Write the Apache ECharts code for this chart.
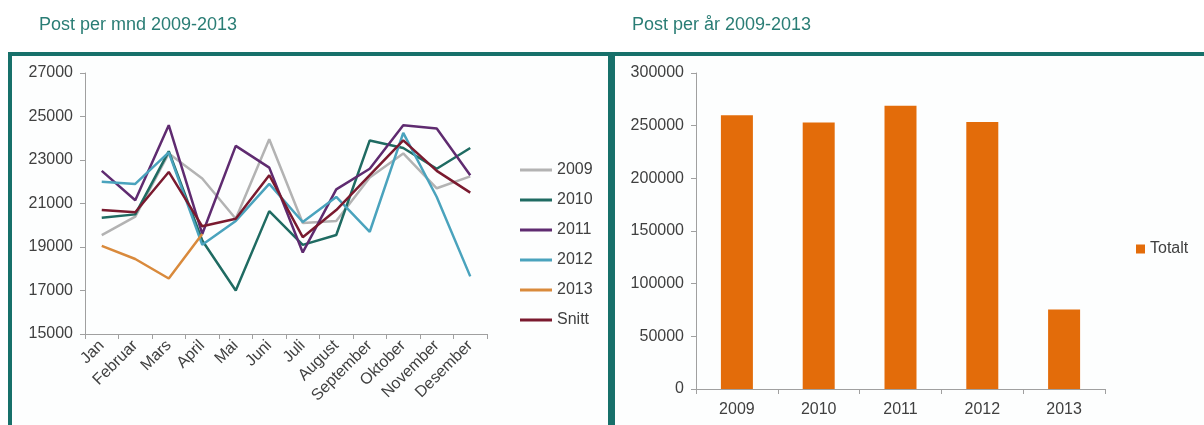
<!DOCTYPE html>
<html>
<head>
<meta charset="utf-8">
<script src="https://cdn.jsdelivr.net/npm/echarts@6/dist/echarts.min.js"></script>
<style>
html,body{margin:0;padding:0;background:#ffffff;}
#chart{width:1204px;height:425px;}
</style>
</head>
<body>
<div id="chart"></div>
<script>
// ---- data ----
const months = ['Jan','Februar','Mars','April','Mai','Juni','Juli','August','September','Oktober','November','Desember'];
const seriesNames = ['2009','2010','2011','2012','2013','Snitt'];
const s2009 = [19550, 20400, 23300, 22150, 20300, 23950, 20100, 20200, 22200, 23300, 21700, 22250];
const s2010 = [20350, 20500, 23400, 19300, 17000, 20650, 19100, 19550, 23900, 23550, 22600, 23550];
const s2011 = [22500, 21150, 24600, 19600, 23650, 22650, 18750, 21650, 22600, 24600, 24450, 22300];
const s2012 = [22000, 21900, 23350, 19100, 20200, 21900, 20150, 21300, 19700, 24250, 21300, 17650];
const s2013 = [19050, 18450, 17550, 19600, null, null, null, null, null, null, null, null];
const sSnitt = [20700, 20600, 22450, 19950, 20300, 22300, 19450, 20700, 22300, 23900, 22500, 21500];
const years = ['2009','2010','2011','2012','2013'];
const totals = [260000, 253000, 269000, 253500, 75500];
const leftTicks = [15000, 17000, 19000, 21000, 23000, 25000, 27000];
const rightTicks = [0, 50000, 100000, 150000, 200000, 250000, 300000];

const lineValues = [s2009, s2010, s2011, s2012, s2013, sSnitt];
const lineColors = ['#b3b3b3', '#1f6b62', '#5f2b70', '#4aa3bd', '#d98a3c', '#7a1a2f'];

const axisColor = '#a0a0a0';
const labelColor = '#404040';
const borderColor = '#17706a';
const plain = v => String(v);

const chart = echarts.init(document.getElementById('chart'), null, {renderer: 'canvas'});

const lineSeries = seriesNames.map((name, i) => ({
  name: name,
  type: 'line',
  xAxisIndex: 0,
  yAxisIndex: 0,
  data: lineValues[i],
  symbol: 'none',
  connectNulls: false,
  lineStyle: {width: 2.5, color: lineColors[i]},
  itemStyle: {color: lineColors[i]},
  z: 2 + i
}));

const option = {
  animation: false,
  backgroundColor: '#ffffff',
  textStyle: {fontFamily: 'Liberation Sans, Arial, sans-serif'},
  title: [
    {text: 'Post per mnd 2009-2013', left: 34, top: 11,
     textStyle: {fontSize: 18, fontWeight: 'normal', color: '#2a7d75', fontFamily: 'Liberation Sans, Arial, sans-serif'}},
    {text: 'Post per år 2009-2013', left: 627, top: 11,
     textStyle: {fontSize: 18, fontWeight: 'normal', color: '#2a7d75', fontFamily: 'Liberation Sans, Arial, sans-serif'}}
  ],
  graphic: [
    {type: 'rect', shape: {x: 10, y: 54, width: 600, height: 420},
     style: {fill: '#fdfefe', stroke: borderColor, lineWidth: 4}, z: -10, silent: true},
    {type: 'rect', shape: {x: 613, y: 54, width: 620, height: 420},
     style: {fill: '#fdfefe', stroke: borderColor, lineWidth: 4}, z: -10, silent: true}
  ],
  legend: [
    {data: seriesNames, orient: 'vertical', left: 515, top: 157, icon: 'rect',
     itemWidth: 32, itemHeight: 3, itemGap: 14,
     textStyle: {fontSize: 16, color: labelColor}},
    {data: ['Totalt'], orient: 'vertical', left: 1131, top: 236, icon: 'rect',
     itemWidth: 9, itemHeight: 9,
     textStyle: {fontSize: 16, color: labelColor}}
  ],
  grid: [
    {left: 85, top: 73, width: 402, height: 261},
    {left: 696, top: 73, width: 409, height: 316}
  ],
  xAxis: [
    {gridIndex: 0, type: 'category', data: months, boundaryGap: true,
     axisLine: {lineStyle: {color: axisColor, width: 1}},
     axisTick: {show: true, length: 5, lineStyle: {color: axisColor}},
     axisLabel: {rotate: 45, fontSize: 16, color: labelColor, margin: 9, interval: 0}},
    {gridIndex: 1, type: 'category', data: years, boundaryGap: true,
     axisLine: {lineStyle: {color: axisColor, width: 1}},
     axisTick: {show: true, length: 5, lineStyle: {color: axisColor}},
     axisLabel: {fontSize: 16, color: labelColor, margin: 13, interval: 0}}
  ],
  yAxis: [
    {gridIndex: 0, type: 'value', min: leftTicks[0], max: leftTicks[leftTicks.length - 1], interval: 2000,
     axisLine: {show: true, lineStyle: {color: axisColor}},
     axisTick: {show: true, length: 5, lineStyle: {color: axisColor}},
     splitLine: {show: false},
     axisLabel: {fontSize: 16, color: labelColor, margin: 12, formatter: plain}},
    {gridIndex: 1, type: 'value', min: rightTicks[0], max: rightTicks[rightTicks.length - 1], interval: 50000,
     axisLine: {show: true, lineStyle: {color: axisColor}},
     axisTick: {show: true, length: 5, lineStyle: {color: axisColor}},
     splitLine: {show: false},
     axisLabel: {fontSize: 16, color: labelColor, margin: 12, formatter: plain}}
  ],
  series: lineSeries.concat([
    {name: 'Totalt', type: 'bar', xAxisIndex: 1, yAxisIndex: 1, data: totals,
     barWidth: 32, itemStyle: {color: '#e36c0a'}}
  ])
};
chart.setOption(option);
</script>
</body>
</html>
